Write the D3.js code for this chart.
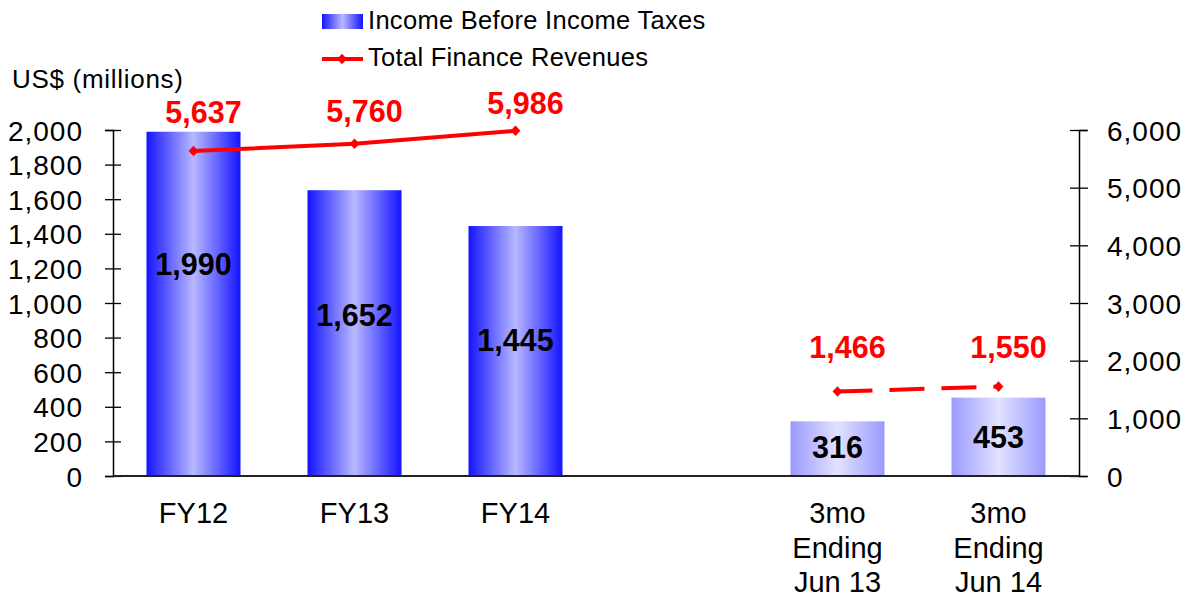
<!DOCTYPE html>
<html>
<head>
<meta charset="utf-8">
<script src="https://cdn.jsdelivr.net/npm/d3@7"></script>
<style>
  body { margin: 0; background: #fff; }
  svg text { font-family: "Liberation Sans", Arial, sans-serif; }
</style>
</head>
<body>
<div id="chart"></div>
<script>
var categories = ["FY12", "FY13", "FY14", "3mo Ending Jun 13", "3mo Ending Jun 14"];
var incomeBeforeTaxes = [1990, 1652, 1445, 316, 453];
var financeRevenues = [5637, 5760, 5986, 1466, 1550];
var leftTicks = [0, 200, 400, 600, 800, 1000, 1200, 1400, 1600, 1800, 2000];
var rightTicks = [0, 1000, 2000, 3000, 4000, 5000, 6000];

var W = 1188, H = 597;
var x0 = 113, x1 = 1079, yTop = 130, yBot = 476;

// gap slot between the fiscal years and the quarters
var slots = categories.slice(0, 3).concat(["gap"], categories.slice(3));

var svg = d3.select("#chart").append("svg")
  .attr("width", W).attr("height", H);

var defs = svg.append("defs");
function grad(id, edge, mid) {
  var g = defs.append("linearGradient").attr("id", id)
    .attr("x1", "0%").attr("x2", "100%").attr("y1", "0%").attr("y2", "0%");
  g.append("stop").attr("offset", "0%").attr("stop-color", edge);
  g.append("stop").attr("offset", "50%").attr("stop-color", mid);
  g.append("stop").attr("offset", "100%").attr("stop-color", edge);
}
grad("gFY", "#1414ff", "#b8b8ff");
grad("gQ", "#9a9aff", "#e2e2ff");

var x = d3.scaleBand().domain(slots).range([x0, x1]).paddingInner(0.416).paddingOuter(0.208);
var yL = d3.scaleLinear().domain([0, 2000]).range([yBot, yTop]);
var yR = d3.scaleLinear().domain([0, 6000]).range([yBot, yTop]);
var fmt = d3.format(",");

// bars
svg.append("g").selectAll("rect").data(incomeBeforeTaxes).enter().append("rect")
  .attr("x", (d, i) => x(categories[i]))
  .attr("width", x.bandwidth())
  .attr("y", d => yL(d))
  .attr("height", d => yBot - yL(d))
  .attr("fill", (d, i) => i < 3 ? "url(#gFY)" : "url(#gQ)");

// bar value labels (tweaked like the original)
var barShift = [-39, -17, -10, -1, 1];
svg.append("g").selectAll("text").data(incomeBeforeTaxes).enter().append("text")
  .attr("x", (d, i) => x(categories[i]) + x.bandwidth() / 2)
  .attr("y", (d, i) => (yL(d) + yBot) / 2 + 10 + barShift[i])
  .attr("text-anchor", "middle")
  .style("font-size", "30.5px").style("font-weight", "bold")
  .attr("fill", "#000")
  .text(d => fmt(d));

// axes
var axL = svg.append("g").attr("transform", "translate(" + x0 + ",0)")
  .call(d3.axisLeft(yL).tickValues(leftTicks).tickFormat(fmt).tickSize(8).tickPadding(22));
var axR = svg.append("g").attr("transform", "translate(" + x1 + ",0)")
  .call(d3.axisRight(yR).tickValues(rightTicks).tickFormat(fmt).tickSize(8).tickPadding(20));
[axL, axR].forEach(function(ax) {
  ax.select(".domain").attr("stroke", "#000").attr("stroke-width", 1.5);
  ax.selectAll(".tick line").attr("stroke", "#000").attr("stroke-width", 1.3);
  ax.selectAll(".tick text").style("font-size", "28px").style("letter-spacing", "1px")
    .attr("fill", "#000").attr("dy", "0.36em");
});
axL.selectAll(".tick line").attr("x1", 8).attr("x2", -8);
axR.selectAll(".tick line").attr("x1", -9).attr("x2", 9);

// baseline
svg.append("line").attr("x1", x0).attr("x2", x1).attr("y1", yBot).attr("y2", yBot)
  .attr("stroke", "#222").attr("stroke-width", 2);

// category labels
categories.forEach(function(c, i) {
  var words = c.indexOf("3mo") == 0 ? ["3mo", "Ending", c.replace("3mo Ending ", "")] : [c];
  var t = svg.append("text")
    .attr("x", x(c) + x.bandwidth() / 2)
    .attr("y", 523)
    .attr("text-anchor", "middle")
    .style("font-size", "29px").attr("fill", "#000");
  words.forEach(function(w, k) {
    t.append("tspan").attr("x", x(c) + x.bandwidth() / 2).attr("y", 523 + k * 34.5).text(w);
  });
});

// finance revenue line
var px = i => x(categories[i]) + x.bandwidth() / 2;
var line = d3.line().x(d => px(d)).y(d => yR(financeRevenues[d]));
svg.append("path").attr("d", line([0, 1, 2]))
  .attr("fill", "none").attr("stroke", "#ff0000").attr("stroke-width", 4);
svg.append("path").attr("d", line([3, 4]))
  .attr("fill", "none").attr("stroke", "#ff0000").attr("stroke-width", 4)
  .attr("stroke-dasharray", "35,17");
var diamond = d3.symbol().type(d3.symbolDiamond).size(50);
svg.append("g").selectAll("path").data(financeRevenues).enter().append("path")
  .attr("d", diamond)
  .attr("transform", (d, i) => "translate(" + px(i) + "," + yR(d) + ") scale(1.3,0.8)")
  .attr("fill", "#ff0000");

var lineShift = [-28, -22, -17, -33, -29];
svg.append("g").selectAll("text").data(financeRevenues).enter().append("text")
  .attr("x", (d, i) => px(i) + 10)
  .attr("y", (d, i) => yR(d) + lineShift[i])
  .attr("text-anchor", "middle")
  .style("font-size", "30.5px").style("font-weight", "bold")
  .attr("fill", "#ff0000")
  .text(d => fmt(d));

// unit label
svg.append("text").attr("x", 12).attr("y", 88)
  .style("font-size", "26px").style("letter-spacing", "0.7px")
  .attr("fill", "#000").text("US$ (millions)");

// legend
var lg = svg.append("g");
lg.append("rect").attr("x", 322).attr("y", 14).attr("width", 41).attr("height", 15)
  .attr("fill", "url(#gFY)");
lg.append("text").attr("x", 368).attr("y", 29).style("font-size", "25.5px")
  .style("letter-spacing", "0.3px")
  .attr("fill", "#000").text("Income Before Income Taxes");
lg.append("line").attr("x1", 322).attr("x2", 363).attr("y1", 59).attr("y2", 59)
  .attr("stroke", "#ff0000").attr("stroke-width", 4);
lg.append("path").attr("d", diamond).attr("transform", "translate(342,59) scale(1.3,0.8)")
  .attr("fill", "#ff0000");
lg.append("text").attr("x", 368).attr("y", 66).style("font-size", "25.5px")
  .style("letter-spacing", "0.3px")
  .attr("fill", "#000").text("Total Finance Revenues");
</script>
</body>
</html>
